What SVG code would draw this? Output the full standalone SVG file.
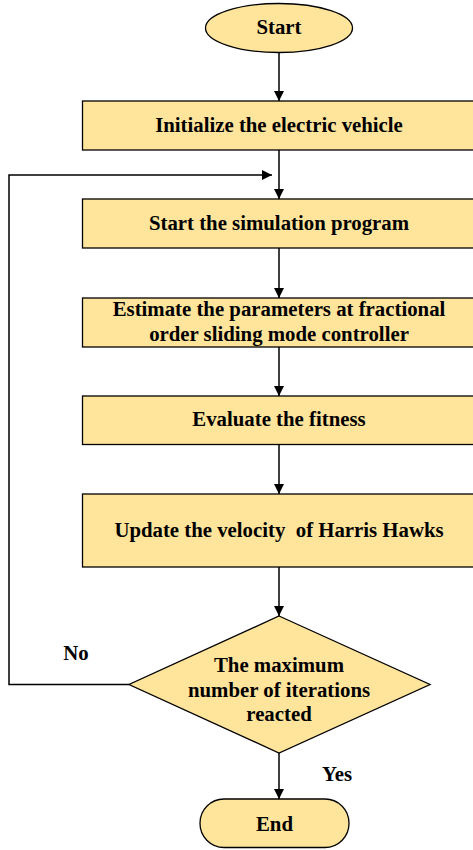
<svg xmlns="http://www.w3.org/2000/svg" width="473" height="850" viewBox="0 0 473 850">
<style>
.n{fill:#FFE49B;stroke:#000;stroke-width:1.3}
.t{font-family:'Liberation Serif','Times New Roman','DejaVu Serif',serif;font-weight:bold;font-size:20.8px;text-anchor:middle;fill:#000}
.c{fill:none;stroke:#000;stroke-width:1.5}
</style>
<defs>
<marker id="ah" markerWidth="10" markerHeight="10" refX="10" refY="5" orient="auto" markerUnits="userSpaceOnUse">
<path d="M0,0 L10,5 L0,10 Z" fill="#000"/>
</marker>
</defs>
<rect width="473" height="850" fill="#fff"/>
<g id="connectors">
<line class="c" x1="279" y1="52" x2="279" y2="101" marker-end="url(#ah)"/>
<line class="c" x1="279" y1="150" x2="279" y2="199" marker-end="url(#ah)"/>
<line class="c" x1="279" y1="248" x2="279" y2="298" marker-end="url(#ah)"/>
<line class="c" x1="279" y1="347" x2="279" y2="396" marker-end="url(#ah)"/>
<line class="c" x1="279" y1="444" x2="279" y2="494" marker-end="url(#ah)"/>
<line class="c" x1="279" y1="567" x2="279" y2="616" marker-end="url(#ah)"/>
<line class="c" x1="279" y1="753" x2="279" y2="799" marker-end="url(#ah)"/>
<polyline class="c" points="129,684.5 9,684.5 9,175 272,175" marker-end="url(#ah)"/>
<text class="t" x="76" y="660">No</text>
<text class="t" x="337" y="781">Yes</text>
</g>
<g id="start">
<ellipse class="n" cx="279" cy="28" rx="73.5" ry="24.5"/>
<text class="t" x="279" y="33.5">Start</text>
</g>
<g id="init">
<rect class="n" x="82.5" y="101" width="393" height="49"/>
<text class="t" x="279" y="131.5">Initialize the electric vehicle</text>
</g>
<g id="sim">
<rect class="n" x="82.5" y="199" width="393" height="49"/>
<text class="t" x="279" y="230">Start the simulation program</text>
</g>
<g id="estimate">
<rect class="n" x="82.5" y="298" width="393" height="49"/>
<text class="t" x="279" y="315.5">Estimate the parameters at fractional</text>
<text class="t" x="279" y="340.5">order sliding mode controller</text>
</g>
<g id="evaluate">
<rect class="n" x="82.5" y="396" width="393" height="48.5"/>
<text class="t" x="279" y="425.5">Evaluate the fitness</text>
</g>
<g id="update">
<rect class="n" x="82.5" y="494" width="393" height="73"/>
<text class="t" x="279" y="536.5" xml:space="preserve">Update the velocity  of Harris Hawks</text>
</g>
<g id="decision">
<polygon class="n" points="279,616 430,684.5 279,753 129,684.5"/>
<text class="t" x="279" y="671.5">The maximum</text>
<text class="t" x="279" y="696.5">number of iterations</text>
<text class="t" x="279" y="721">reacted</text>
</g>
<g id="end">
<rect class="n" x="200" y="799" width="149" height="48.5" rx="24" ry="24"/>
<text class="t" x="274.5" y="830.5">End</text>
</g>
</svg>
